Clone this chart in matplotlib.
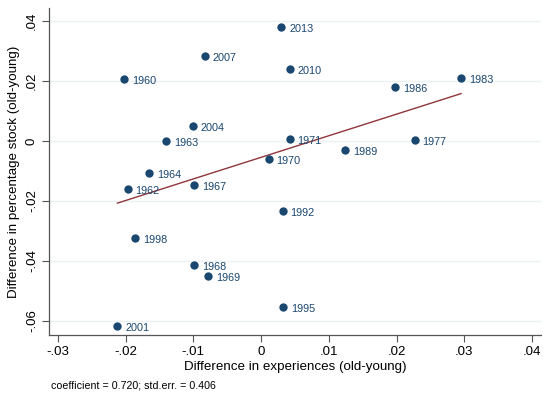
import matplotlib.pyplot as plt
import numpy as np

plt.rcParams['font.family'] = ['Liberation Sans', 'DejaVu Sans']

# cohort years and their (old - young) differences
years = ['2013', '2007', '2010', '1960', '1986', '1983', '2004', '1963', '1971',
         '1977', '1970', '1989', '1964', '1962', '1967', '1992', '1998', '1968',
         '1969', '1995', '2001']
diff_exp = [0.0030, -0.0083, 0.0043, -0.0202, 0.0198, 0.0295, -0.0101, -0.0140, 0.0042,
            0.0227, 0.0011, 0.0124, -0.0165, -0.0197, -0.0099, 0.0032, -0.0186, -0.0099,
            -0.0078, 0.0033, -0.0212]
diff_stock = [0.0381, 0.0284, 0.0240, 0.0207, 0.0180, 0.0210, 0.0049, 0.0001, 0.0006,
              0.0004, -0.0059, -0.0029, -0.0106, -0.0159, -0.0148, -0.0232, -0.0323, -0.0414,
              -0.0450, -0.0554, -0.0617]
coef = 0.720
se = 0.406

x = np.array(diff_exp)
y = np.array(diff_stock)
intercept = y.mean() - coef * x.mean()
xfit = np.array([x.min(), x.max()])
yfit = intercept + coef * xfit

navy = '#1a476f'
maroon = '#90353b'

fig = plt.figure(figsize=(5.43, 3.93), dpi=100)
ax = fig.add_axes([49 / 543, 1 - 335 / 393, 492 / 543, 327 / 393])

ax.grid(axis='y', color='#eaf2f3', lw=1.0)
ax.set_axisbelow(True)
ax.plot(xfit, yfit, color=maroon, lw=1.0, zorder=2)
ax.scatter(x, y, s=36, color=navy, zorder=3, linewidths=0)
for xi, yi, lab in zip(x, y, years):
    ax.annotate(lab, (xi, yi), xytext=(5.5, -1.5), textcoords='offset points',
                ha='left', va='center', fontsize=7.8, color=navy)

ax.set_xlim(-0.0313, 0.0413)
ax.set_ylim(-0.0647, 0.0443)
xt = [-0.03, -0.02, -0.01, 0, 0.01, 0.02, 0.03, 0.04]
yt = [-0.06, -0.04, -0.02, 0, 0.02, 0.04]
ax.set_xticks(xt)
ax.set_xticklabels(['-.03', '-.02', '-.01', '0', '.01', '.02', '.03', '.04'], fontsize=9.5)
ax.set_yticks(yt)
ax.set_yticklabels(['-.06', '-.04', '-.02', '0', '.02', '.04'], fontsize=9.5,
                   rotation=90, va='center')
ax.tick_params(direction='out', length=5, width=0.8, color='#555555', pad=3)

for side in ['top', 'right']:
    ax.spines[side].set_visible(False)
for side in ['left', 'bottom']:
    ax.spines[side].set_color('#555555')
    ax.spines[side].set_linewidth(0.9)

ax.set_xlabel('Difference in experiences (old-young)', fontsize=9.6, labelpad=2)
ax.set_ylabel('Difference in percentage stock (old-young)', fontsize=9.6, labelpad=4)

fig.text(51 / 543, 1 - 385 / 393, f'coefficient = {coef:.3f}; std.err. = {se:.3f}',
         fontsize=7.7, va='center', ha='left')

fig.savefig('out.png', dpi=100)
